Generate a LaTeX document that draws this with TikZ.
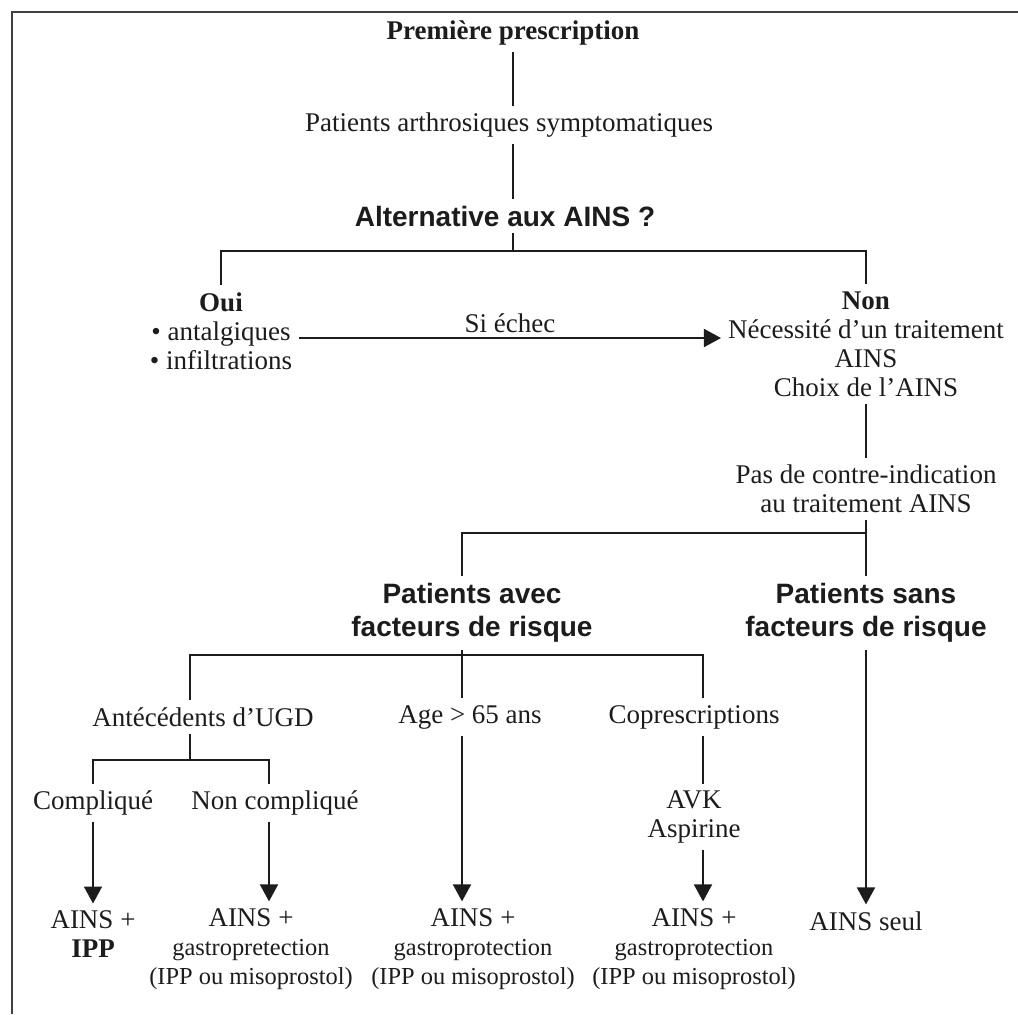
\documentclass[tikz,border=0pt]{standalone}
\usepackage{fontspec}
\setmainfont{Liberation Serif}
\newfontfamily\comicfont{Liberation Sans}
\usetikzlibrary{arrows.meta}
\definecolor{FlowInk}{HTML}{1C1C1C}
\definecolor{FrameGray}{HTML}{404040}
\newcommand{\smline}[1]{{\fontsize{12.2}{14.5}\selectfont #1}}

\begin{document}
\begin{tikzpicture}[
  x=0.5pt,y=-0.5pt,
  txt/.style={align=center,text=FlowInk,font=\fontsize{13.5}{14.5}\selectfont},
  hdr/.style={align=center,text=FlowInk,font=\comicfont\bfseries\fontsize{14}{16.5}\selectfont},
  link/.style={draw=FlowInk,line width=0.9pt},
  arrow/.style={-{Triangle[length=8.5pt,width=9pt]},draw=FlowInk,line width=0.9pt}
]
\useasboundingbox (0,0) rectangle (1018,1014);
% cadre
\draw[FrameGray,line width=1.4pt] (12,1014) -- (12,12) -- (1018,12);

% premier niveau
\node[txt] (pp) at (513,33) {\textbf{Première prescription}};
\node[txt] (pat) at (509,125) {Patients arthrosiques symptomatiques};
\node[hdr] (alt) at (505,216) {Alternative aux AINS ?};
\node[txt] (oui) at (221,331) {\textbf{Oui}\\\textbullet{} antalgiques\\\textbullet{} infiltrations};
\node[txt] (non) at (866,344) {\textbf{Non}\\Nécessité d'un traitement\\AINS\\Choix de l'AINS};
\node[txt] (pas) at (866,489) {Pas de contre-indication\\au traitement AINS};

% facteurs de risque
\node[hdr] (avec) at (472,613) {Patients avec\\facteurs de risque};
\node[hdr] (sans) at (866,613) {Patients sans\\facteurs de risque};
\node[txt] (ant) at (203,717) {Antécédents d'UGD};
\node[txt] (age) at (470,717) {Age > 65 ans};
\node[txt] (copr) at (694,717) {Coprescriptions};
\node[txt] (comp) at (93,803) {Compliqué};
\node[txt] (ncomp) at (275,803) {Non compliqué};
\node[txt] (avk) at (694,817) {AVK\\Aspirine};

% traitements
\node[txt] (r1) at (93,934) {AINS +\\\textbf{IPP}};
\node[txt] (r2) at (251,949) {AINS +\\\smline{gastropretection}\\\smline{(IPP ou misoprostol)}};
\node[txt] (r3) at (473,949) {AINS +\\\smline{gastroprotection}\\\smline{(IPP ou misoprostol)}};
\node[txt] (r4) at (694,949) {AINS +\\\smline{gastroprotection}\\\smline{(IPP ou misoprostol)}};
\node[txt] (r5) at (866,921) {AINS seul};

% jonctions
\coordinate (jtop) at (513,251);
\coordinate (sechec) at (510,338);
\coordinate (jright) at (866,533);
\coordinate (jleft) at (462,533);
\coordinate (jmid) at (462,655);
\coordinate (jugd) at (190,655);
\coordinate (jcop) at (703,655);
\coordinate (jsplit) at (190,760);
\coordinate (jcomp) at (93,760);
\coordinate (jncomp) at (269,760);

\draw[link] (pp) -- (pat.north -| pp);
\draw[link] (pat.south -| pp) -- (alt.north -| pp);
\draw[link] (alt.south -| jtop) -- (jtop);
\draw[link] (oui) |- (jtop) -| (non);
\draw[arrow] (oui.east |- sechec) -- (non.west |- sechec)
  node[midway,above,txt,inner sep=2pt] (si) {Si échec};
\draw[link] (non) -- (pas);
\draw[link] (pas) -- (sans);
\draw[link] (jright) -- (jleft) -- (avec.north -| jleft);
\draw[link] (avec.south -| jmid) -- (age.north -| jmid);
\draw[link] (ant.north -| jugd) -- (jugd) -- (jcop) -- (copr.north -| jcop);
\draw[arrow] (age.south -| jmid) -- (r3.north -| jmid);
\draw[link] (ant.south -| jsplit) -- (jsplit);
\draw[link] (comp) -- (jcomp) -- (jncomp) -- (ncomp.north -| jncomp);
\draw[arrow] (comp) -- (r1);
\draw[arrow] (ncomp.south -| jncomp) -- (r2.north -| jncomp);
\draw[link] (copr.south -| jcop) -- (avk.north -| jcop);
\draw[arrow] (avk.south -| jcop) -- (r4.north -| jcop);
\draw[arrow] (sans) -- (r5);
\end{tikzpicture}
\end{document}
